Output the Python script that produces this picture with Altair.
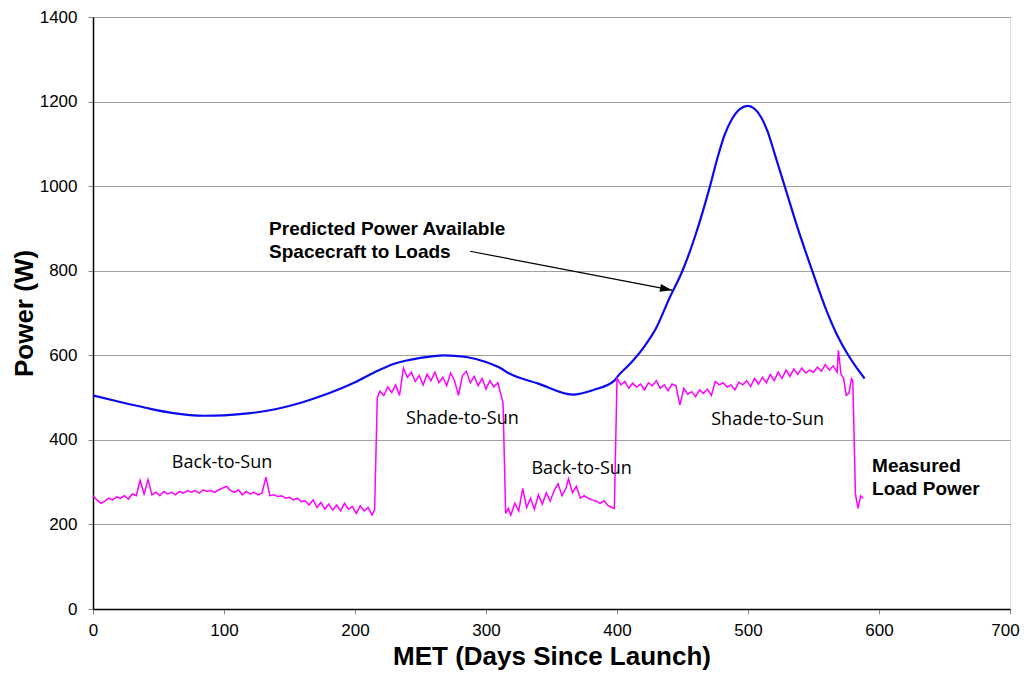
import altair as alt
import pandas as pd

# Predicted power available (blue)
blue_days = [0, 20, 40, 60, 85, 100, 120, 140, 160, 180, 200, 215, 230, 250, 268, 285,
             300, 312, 316, 340, 366, 382, 398, 401, 410, 420, 430, 440, 450, 460, 471,
             477, 482, 488, 494, 500, 505, 510, 515, 520, 528, 538, 549, 560, 568, 576,
             583, 589]
blue_power = [505, 490, 476, 464, 457, 458, 463, 473, 489, 510, 536, 560, 580, 594, 600, 596,
              584, 568, 560, 533, 507, 518, 540, 552, 580, 617, 665, 735, 800, 885, 1000,
              1070, 1120, 1160, 1183, 1190, 1183, 1163, 1129, 1080, 1000, 900, 800, 705,
              648, 603, 570, 545]

# Measured load power (magenta)
load_days = [0, 3, 6, 9, 12, 15, 18, 21, 24, 27, 30, 33, 36, 39, 42, 45, 48, 51, 54, 57,
             60, 63, 66, 69, 72, 75, 78, 81, 84, 87, 90, 93, 96, 99, 102, 105, 108, 111,
             114, 117, 120, 123, 126, 129, 132, 135, 138, 141, 144, 147, 150, 153, 156,
             159, 162, 165, 168, 171, 174, 177, 180, 183, 186, 189, 192, 195, 198, 201,
             204, 207, 210, 213, 215,
             217, 219, 222, 225, 228, 231, 234, 237, 240, 243, 246, 249, 252, 255, 258,
             261, 264, 267, 270, 273, 276, 279, 282, 285, 288, 291, 294, 297, 300, 303,
             306, 309, 312, 313,
             315, 317, 319, 322, 325, 328, 331, 334, 337, 340, 343, 346, 349, 352, 355,
             358, 361, 363, 366, 369, 372, 375, 378, 381, 384, 387, 390, 393, 396, 398,
             400, 403, 406, 409, 412, 415, 418, 421, 424, 427, 430, 433, 436, 439, 442,
             445, 448, 451, 454, 457, 460, 463, 466, 469, 472, 475, 478, 481, 484, 487,
             490, 493, 496, 499, 502, 505, 508, 511, 514, 517, 520, 523, 526, 529, 532,
             535, 538, 541, 544, 547, 550, 553, 556, 559, 562, 565, 568, 569, 571, 573,
             575, 577, 579, 580, 582, 584, 586, 588]
load_power = [268, 258, 250, 255, 262, 258, 265, 262, 268, 260, 272, 268, 304, 272, 306, 270,
              276, 268, 278, 272, 276, 270, 278, 274, 280, 276, 280, 274, 282, 278, 280, 276,
              282, 286, 290, 280, 276, 282, 270, 278, 272, 276, 270, 274, 312, 268, 270, 266,
              268, 262, 264, 258, 262, 254, 256, 246, 258, 240, 252, 236, 248, 234, 246, 232,
              250, 236, 242, 226, 244, 232, 240, 222, 236,
              500, 515, 505, 525, 512, 530, 505, 570, 548, 560, 538, 552, 530, 555, 540,
              560, 535, 548, 528, 558, 540, 505, 552, 562, 535, 550, 528, 545, 520, 540,
              525, 535, 500, 488,
              226, 238, 222, 250, 232, 285, 240, 262, 236, 270, 248, 275, 255, 280, 296,
              268, 285, 308, 275, 290, 262, 268, 262, 258, 255, 250, 256, 245, 240, 238,
              545, 530, 538, 522, 534, 525, 532, 518, 535, 528, 540, 522, 530, 516, 532,
              528, 482, 522, 508, 514, 502, 518, 510, 520, 505, 538, 530, 535, 525, 530,
              518, 536, 530, 540, 526, 545, 532, 548, 535, 555, 540, 560, 545, 565, 550,
              568, 555, 570, 558, 565, 560, 572, 562, 578, 565, 575, 560, 612, 555, 545,
              505, 510, 545, 540, 272, 238, 268, 262]

# Region labels
region_labels = ["Back-to-Sun", "Shade-to-Sun", "Back-to-Sun", "Shade-to-Sun"]
region_days = [98.5, 282, 373, 515]
region_power = [346, 450, 330, 448]

# Bold annotations
note_lines = ["Predicted Power Available", "Spacecraft to Loads", "Measured", "Load Power"]
note_days = [134.4, 134.4, 594.7, 594.7]
note_power = [898, 844, 337, 283]

# Arrow
arrow_start = (287.8, 846)
arrow_end = (442, 754)

blue_df = pd.DataFrame({"day": blue_days, "power": blue_power})
load_df = pd.DataFrame({"day": load_days, "power": load_power})
region_df = pd.DataFrame({"day": region_days, "power": region_power, "label": region_labels})
note_df = pd.DataFrame({"day": note_days, "power": note_power, "label": note_lines})
arrow_df = pd.DataFrame({"day": [arrow_start[0]], "power": [arrow_start[1]],
                         "day2": [arrow_end[0]], "power2": [arrow_end[1]]})
tip_df = pd.DataFrame({"day": [arrow_end[0]], "power": [arrow_end[1]]})

AXIS_FONT = "Liberation Sans"

x_scale = alt.Scale(domain=[0, 700], nice=False, zero=False)
y_scale = alt.Scale(domain=[0, 1400], nice=False)

x_enc = alt.X("day:Q", scale=x_scale,
              axis=alt.Axis(title="MET (Days Since Launch)", values=list(range(0, 701, 100)),
                            format="d", grid=False, tickSize=5, tickColor="#888888",
                            labelFlush=False,
                            labelOffset={"condition": {"test": "datum.value == 700", "value": -5},
                                         "value": 0},
                            domainColor="#000000", domainWidth=1.5,
                            labelFont=AXIS_FONT, labelFontSize=17, labelColor="#000000",
                            labelPadding=8, titleFont=AXIS_FONT, titleFontSize=26,
                            titleFontWeight="bold", titleColor="#000000", titlePadding=5))
y_enc = alt.Y("power:Q", scale=y_scale,
              axis=alt.Axis(title="Power (W)", values=list(range(0, 1401, 200)),
                            format="d", grid=True, gridColor="#A0A0A0", gridWidth=1,
                            tickSize=5, tickColor="#888888", labelFlush=False,
                            domainColor="#000000", domainWidth=1.5,
                            labelFont=AXIS_FONT, labelFontSize=17, labelColor="#000000",
                            labelPadding=11, titleFont=AXIS_FONT, titleFontSize=26,
                            titleFontWeight="bold", titleColor="#000000", titlePadding=2))

blue_line = alt.Chart(blue_df).mark_line(color="#0A0AF0", strokeWidth=2.2,
                                         interpolate="monotone").encode(x=x_enc, y=y_enc)
load_line = alt.Chart(load_df).mark_line(color="#FF00FF", strokeWidth=1.5).encode(
    x="day:Q", y="power:Q")

regions = alt.Chart(region_df).mark_text(font="Open Sans", fontSize=18, color="#000000",
                                         align="center", baseline="middle").encode(
    x="day:Q", y="power:Q", text="label:N")

notes = alt.Chart(note_df).mark_text(font=AXIS_FONT, fontSize=19, fontWeight="bold",
                                     color="#000000", align="left", baseline="middle").encode(
    x="day:Q", y="power:Q", text="label:N")

arrow = alt.Chart(arrow_df).mark_rule(color="#000000", strokeWidth=1.2).encode(
    x="day:Q", y="power:Q", x2="day2:Q", y2="power2:Q")

tip = alt.Chart(tip_df).mark_point(shape="M0,0 L-0.8,2.4 L0.8,2.4 Z", size=100,
                                   angle=101, filled=True, color="#000000",
                                   opacity=1).encode(x="day:Q", y="power:Q")

chart = alt.layer(blue_line, load_line, regions, notes, arrow, tip).properties(
    width=917, height=592,
    autosize=alt.AutoSizeParams(type="none"),
    padding={"left": 85, "top": 9, "right": 11, "bottom": 62},
).configure_view(stroke="#A0A0A0", strokeWidth=1).configure(background="white")

chart.save("out.html", embed_options={"renderer": "svg", "actions": False})
